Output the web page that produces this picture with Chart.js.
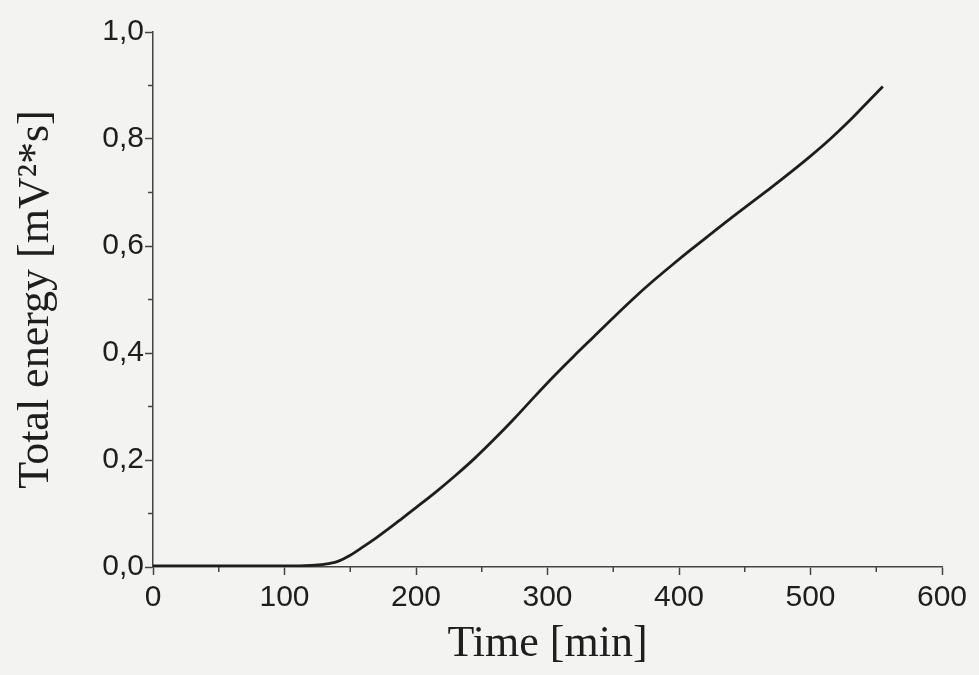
<!DOCTYPE html>
<html>
<head>
<meta charset="utf-8">
<script src="https://cdn.jsdelivr.net/npm/chart.js@4.4.1/dist/chart.umd.min.js"></script>
<style>
  html, body { margin: 0; padding: 0; background: #f3f3f2; }
  #wrap { width: 979px; height: 675px; }
</style>
</head>
<body>
<div id="wrap"><canvas id="energyChart" width="979" height="675"></canvas></div>
<script>
// Time in minutes and total energy
const timeMin = [0, 20, 40, 60, 80, 100, 120, 130, 140, 150, 160, 170, 180, 190, 200,
  215, 230, 245, 260, 275, 290, 305, 320, 335, 350, 365, 380, 395, 410, 425,
  440, 455, 470, 485, 500, 515, 530, 545, 555];
const totalEnergy = [0.002, 0.002, 0.002, 0.002, 0.002, 0.002, 0.003, 0.005, 0.010, 0.022, 0.038, 0.055, 0.073, 0.092, 0.111,
  0.140, 0.171, 0.204, 0.240, 0.278, 0.318, 0.357, 0.394, 0.430, 0.466, 0.501, 0.534, 0.565, 0.595, 0.624,
  0.653, 0.681, 0.709, 0.738, 0.768, 0.800, 0.835, 0.873, 0.898];

const xMajorTicks = [0, 100, 200, 300, 400, 500, 600];
const xMinorTicks = [50, 150, 250, 350, 450, 550];
const yMajorTicks = [0, 0.2, 0.4, 0.6, 0.8, 1.0];
const yMinorTicks = [0.1, 0.3, 0.5, 0.7, 0.9];

const ink = '#1e1e1e';
const axisGray = '#444';

// short ticks between the labelled ones
const minorTicks = {
  id: 'minorTicks',
  afterDraw(chart) {
    const c = chart.ctx;
    const xs = chart.scales.x, ys = chart.scales.y;
    c.save();
    c.strokeStyle = axisGray;
    c.lineWidth = 1.5;
    xMinorTicks.forEach(v => {
      const px = xs.getPixelForValue(v);
      c.beginPath(); c.moveTo(px, ys.bottom); c.lineTo(px, ys.bottom + 5); c.stroke();
    });
    yMinorTicks.forEach(v => {
      const py = ys.getPixelForValue(v);
      c.beginPath(); c.moveTo(xs.left, py); c.lineTo(xs.left - 5, py); c.stroke();
    });
    c.restore();
  }
};

const ctx = document.getElementById('energyChart').getContext('2d');
new Chart(ctx, {
  type: 'line',
  data: {
    datasets: [{
      data: timeMin.map((t, i) => ({ x: t, y: totalEnergy[i] })),
      borderColor: ink,
      borderWidth: 2.8,
      pointRadius: 0,
      cubicInterpolationMode: 'monotone',
      fill: false
    }]
  },
  options: {
    responsive: false,
    animation: false,
    layout: { padding: { top: 32, right: 37, left: 0, bottom: 0 } },
    plugins: { legend: { display: false }, tooltip: { enabled: false } },
    scales: {
      x: {
        type: 'linear',
        min: 0, max: 600,
        afterFit: s => { s.height = 108; },
        afterBuildTicks: s => { s.ticks = xMajorTicks.map(v => ({ value: v })); },
        grid: { drawOnChartArea: false, tickLength: 8, tickColor: axisGray, tickWidth: 1.5 },
        border: { color: axisGray, width: 1.5 },
        ticks: {
          color: ink, padding: 5,
          font: { family: '"Liberation Sans", Arial, sans-serif', size: 30 },
          maxRotation: 0
        },
        title: {
          display: true, text: 'Time [min]', color: ink,
          font: { family: '"Liberation Serif", "Times New Roman", serif', size: 44 },
          padding: { top: 0, bottom: 4 }
        }
      },
      y: {
        type: 'linear',
        min: 0, max: 1,
        afterFit: s => { s.width = 153; },
        afterBuildTicks: s => { s.ticks = yMajorTicks.map(v => ({ value: v })); },
        grid: { drawOnChartArea: false, tickLength: 8, tickColor: axisGray, tickWidth: 1.5 },
        border: { color: axisGray, width: 1.5 },
        ticks: {
          color: ink, padding: 1,
          font: { family: '"Liberation Sans", Arial, sans-serif', size: 30 },
          callback: v => v.toFixed(1).replace('.', ',')
        },
        title: {
          display: true, text: 'Total energy [mV²*s]', color: ink,
          font: { family: '"Liberation Serif", "Times New Roman", serif', size: 44 },
          padding: { top: 10, bottom: 0 }
        }
      }
    }
  },
  plugins: [minorTicks]
});
</script>
</body>
</html>
